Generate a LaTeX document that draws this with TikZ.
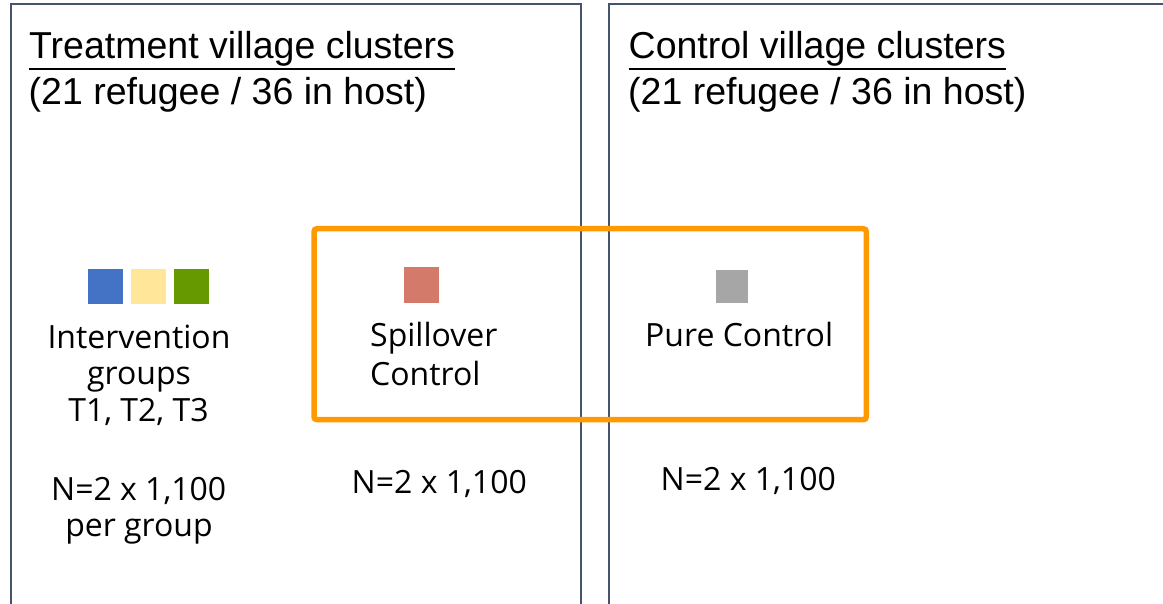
\documentclass[tikz,border=0pt]{standalone}
\usepackage{fontspec}
\setmainfont{Open Sans}
\newfontfamily\arialf{Liberation Sans}
\definecolor{framec}{HTML}{44546A}
\definecolor{orangec}{HTML}{FF9900}
\definecolor{blueq}{HTML}{4472C4}
\definecolor{yellowq}{HTML}{FFE699}
\definecolor{greenq}{HTML}{669900}
\definecolor{redq}{HTML}{D47A6A}
\definecolor{grayq}{HTML}{A6A6A6}
\newcommand\myul[1]{\leavevmode\setbox0\hbox{#1}\rlap{\rule[-11.8pt]{\wd0}{2.4pt}}\box0}
\begin{document}
\begin{tikzpicture}[x=1pt,y=-1pt,
  frame/.style={draw=framec,line width=1.5pt},
  hilite/.style={draw=orangec,line width=5.5pt,rounded corners=3pt},
  title/.style={inner sep=0pt,anchor=base west,font=\arialf\fontsize{37.5pt}{45pt}\selectfont},
  body/.style={inner sep=0pt,font=\fontsize{32pt}{38pt}\selectfont},
  sq/.style={inner sep=0pt,minimum width=35pt,minimum height=35pt,draw=none}]
\useasboundingbox (0,0) rectangle (1163,604);
% frames
\draw[frame] (11,612) -- (11,4) -- (581,4) -- (581,612);
\draw[frame] (609,612) -- (609,4) -- (1175,4);
% highlight box
\draw[hilite] (314,228.7) rectangle (866.3,419.7);
% titles
\node[title] (tt1) at (29,58.3) {\myul{Treatment village clusters}};
\node[title] (tt2) at (28.5,104.5) {(21 refugee / 36 in host)};
\node[title] (ct1) at (628.5,58.3) {\myul{Control village clusters}};
\node[title] (ct2) at (628,104.5) {(21 refugee / 36 in host)};
% squares
\node[sq,fill=blueq] (sqb) at (105.5,287) {};
\node[sq,fill=yellowq] (sqy) at (148.5,287) {};
\node[sq,fill=greenq] (sqg) at (191.5,287) {};
\node[sq,fill=redq,minimum width=35.5pt,minimum height=36pt] (sqr) at (421.7,285.3) {};
\node[sq,fill=grayq,minimum width=32pt,minimum height=33pt] (sqgr) at (731.8,286.6) {};
% intervention column
\node[body,anchor=base] (iv1) at (139,348.3) {Intervention};
\node[body,anchor=base] (iv2) at (139,384.5) {groups};
\node[body,anchor=base] (iv3) at (138.5,421.7) {T1, T2, T3};
\node[body,anchor=base] (in1) at (138.7,500) {N=2 x 1,100};
\node[body,anchor=base] (in2) at (139,536.5) {per group};
% spillover
\node[body,anchor=base west] (sp1) at (370,347) {Spillover};
\node[body,anchor=base west] (sp2) at (370,385.5) {Control};
\node[body,anchor=base] (spn) at (439.3,493.3) {N=2 x 1,100};
% pure control
\node[body,anchor=base west] (pc1) at (645,347) {Pure Control};
\node[body,anchor=base] (pcn) at (748.3,490) {N=2 x 1,100};
\end{tikzpicture}
\end{document}
